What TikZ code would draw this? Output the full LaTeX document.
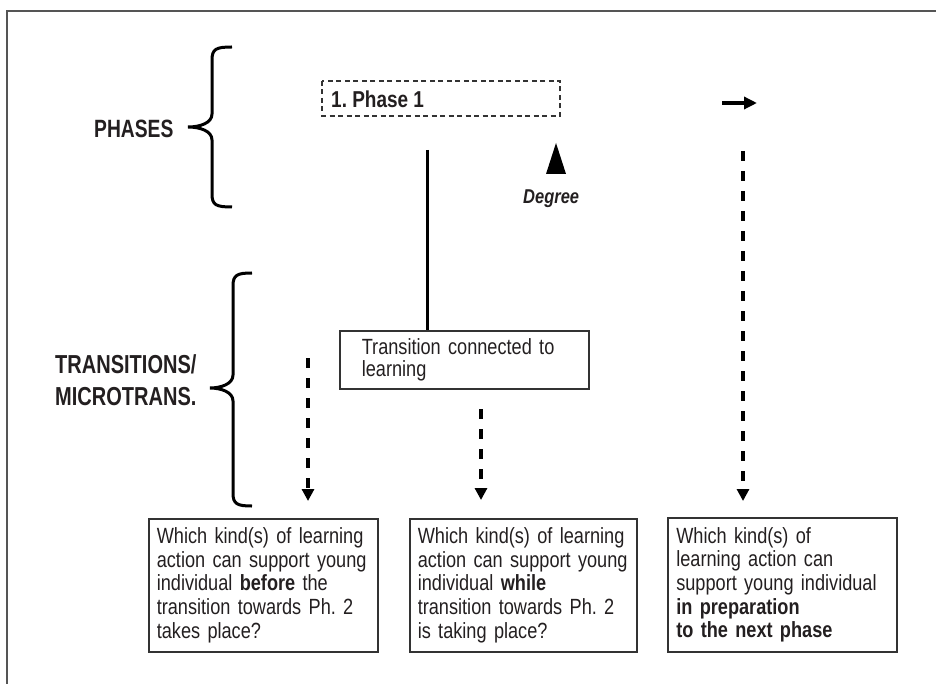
\documentclass[tikz,border=0pt]{standalone}
\usepackage{fontspec}
\setmainfont{Liberation Sans}
\newfontfamily\cnd[FakeStretch=0.825]{Liberation Sans}
\newfontfamily\hdr[FakeStretch=0.77]{Liberation Sans}
\usetikzlibrary{arrows.meta}
\definecolor{ink}{HTML}{231F20}
\definecolor{rulec}{HTML}{333333}
\definecolor{framec}{HTML}{555555}
\newcommand{\Lm}[1]{\mbox{#1}}
\frenchspacing
\begin{document}
\begin{tikzpicture}[x=1pt,y=-1pt,
  framepen/.style={draw=framec, line width=1.5pt},
  bracepen/.style={draw=black, line width=3pt},
  qbox/.style={draw=rulec, line width=1.6pt, text=ink, font=\cnd\frenchspacing\fontsize{22}{23.7}\selectfont,
    align=left, anchor=north west, inner xsep=8pt, inner ysep=0pt},
  tboxst/.style={draw=rulec, line width=1.6pt, text=ink, font=\cnd\fontsize{22}{21.4}\selectfont,
    align=left, anchor=north west, inner xsep=22pt, inner ysep=0pt, text width=205pt, minimum height=58pt},
  headlbl/.style={text=ink, font=\hdr\bfseries\fontsize{26}{32}\selectfont, inner sep=0pt, align=left},
  dasharrow/.style={draw=black, line width=3.5pt, dash pattern=on 10pt off 10pt,
    -{Triangle[length=12pt,width=12pt]}},
  solidline/.style={draw=black, line width=3pt},
  phasebox/.style={draw=rulec, line width=1.5pt, dash pattern=on 5pt off 3.5pt}
]
\useasboundingbox (0,0) rectangle (936,684);

% frame (top and left edges)
\draw[framepen] (936,11) -- (7,11) -- (7,684);

% braces
\draw[bracepen] (232,47) .. controls (216,47) and (212,49) .. (212,60) -- (212,114)
  .. controls (212,123) and (200,127) .. (188,127)
  .. controls (200,127) and (212,131) .. (212,140) -- (212,194)
  .. controls (212,205) and (216,207) .. (232,207);
\draw[bracepen] (252,273) .. controls (237,273) and (233,275) .. (233,286) -- (233,375)
  .. controls (233,384) and (221,388) .. (210,388)
  .. controls (221,388) and (233,392) .. (233,401) -- (233,493)
  .. controls (233,504) and (237,506) .. (252,506);

% side labels
\node[headlbl, font=\hdr\bfseries\fontsize{25}{30}\selectfont, anchor=base west] (phases) at (94,138) {PHASES};
\node[headlbl, anchor=north west] (trans) at (55,354) {TRANSITIONS/\\MICROTRANS.};

% phase 1 dashed box
\draw[phasebox] (322,81) rectangle (560,116);
\node[text=ink, font=\cnd\bfseries\fontsize{23}{26}\selectfont, inner sep=0pt, anchor=base west] (ph1) at (331,108) {1. Phase 1};

% degree marker
\fill[black] (556,143) -- (566,174) -- (546,174) -- cycle;
\node[text=ink, font=\cnd\bfseries\itshape\fontsize{20}{24}\selectfont, inner sep=0pt, anchor=base west] (deg) at (523,204) {Degree};

% right arrow
\coordinate (ra1) at (722,103);
\coordinate (ra2) at (757,103);
\draw[line width=3.5pt, -{Triangle[length=13pt,width=12pt]}] (ra1) -- (ra2);

% transition box
\node[tboxst] (tbox) at (339,330) {\Lm{Transition connected to}\\\Lm{learning}};
\coordinate (s1) at (427,150);
\draw[solidline] (s1) -- (s1 |- tbox.north);

% question boxes
\node[qbox, text width=213pt, minimum height=133pt] (q1) at (148,518)
  {\Lm{Which kind(s) of learning}\\\Lm{action can support young}\\\Lm{individual \textbf{before} the}\\\Lm{transition towards Ph. 2}\\\Lm{takes place?}};
\node[qbox, text width=211pt, minimum height=133pt] (q2) at (409,518)
  {\Lm{Which kind(s) of learning}\\\Lm{action can support young}\\\Lm{individual \textbf{while}}\\\Lm{transition towards Ph. 2}\\\Lm{is taking place?}};
\node[qbox, text width=212pt, minimum height=134pt, inner xsep=8.5pt] (q3) at (667,517)
  {\Lm{Which kind(s) of}\\\Lm{learning action can}\\\Lm{support young individual}\\\Lm{\textbf{in preparation}}\\\Lm{\textbf{to the next phase}}};

% dashed arrows
\coordinate (d1s) at (308,358);
\coordinate (d1e) at (308,501);
\coordinate (d2s) at (481,409);
\coordinate (d2e) at (481,500);
\coordinate (d3s) at (743,151);
\coordinate (d3e) at (743,501);
\draw[dasharrow] (d1s) -- (d1e);
\draw[dasharrow] (d2s) -- (d2e);
\draw[dasharrow] (d3s) -- (d3e);
\end{tikzpicture}
\end{document}
